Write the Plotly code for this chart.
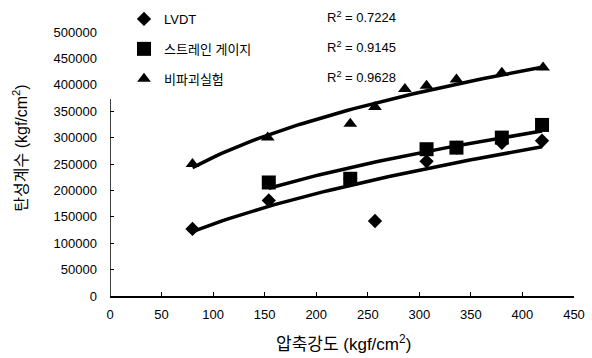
import numpy as np
import plotly.graph_objects as go

# Data (two LVDT points sit hidden behind squares)
lvdt_x = [80, 154, 233, 257, 307, 336, 380, 419]
lvdt_y = [127000, 181000, 222000, 142000, 255000, 281000, 290000, 294000]

sg_x = [154, 233, 307, 336, 380, 419]
sg_y = [215000, 222000, 278000, 281000, 300000, 324000]

nd_x = [80, 153, 233, 257, 286, 307, 336, 380, 420]
nd_y = [250000, 300000, 326000, 358000, 392000, 398000, 410000, 423000, 433000]

names = ["LVDT", "스트레인 게이지", "비파괴실험"]
r2_labels = ["R<sup>2</sup> = 0.7224", "R<sup>2</sup> = 0.9145", "R<sup>2</sup> = 0.9628"]
symbols = ["diamond", "square", "triangle-up"]

x_ticks = [0, 50, 100, 150, 200, 250, 300, 350, 400, 450]
y_ticks = [0, 50000, 100000, 150000, 200000, 250000, 300000, 350000, 400000, 450000, 500000]

x_title = "압축강도 (kgf/cm<sup>2</sup>)"
y_title = "탄성계수 (kgf/cm<sup>2</sup>)"

FONT = "Arial, Liberation Sans, Noto Sans CJK KR, sans-serif"

fig = go.Figure()

series = [(lvdt_x, lvdt_y), (sg_x, sg_y), (nd_x, nd_y)]

# power trendlines (least squares in log space, like a spreadsheet power trendline)
for i, (xs, ys) in enumerate(series):
    lx, ly = np.log(xs), np.log(ys)
    b, lna = np.polyfit(lx, ly, 1)
    xx = np.linspace(min(xs), max(xs), 60)
    yy = np.exp(lna) * xx ** b
    fig.add_trace(go.Scatter(x=xx, y=yy, mode="lines", legendgroup=f"g{i}",
                             line=dict(color="black", width=3.5),
                             showlegend=False, hoverinfo="skip"))

sizes = [11, 14, 12]
for i, ((xs, ys), nm, sym) in enumerate(zip(series, names, symbols)):
    fig.add_trace(go.Scatter(x=xs, y=ys, mode="markers", name=nm,
                             legendgroup=f"g{i}",
                             marker=dict(symbol=sym, size=sizes[i], color="black")))

# invisible trace to host the overlay axis carrying the short set of ticks
fig.add_trace(go.Scatter(x=[0], y=[0], yaxis="y2", mode="markers", legendgroup="g2",
                         marker=dict(opacity=0), showlegend=False, hoverinfo="skip"))

W, H = 592, 358
ML, MR, MT, MB = 110, 18, 0, 62
pw, ph = W - ML - MR, H - MT - MB
# plot area reaches the top of the page; 500000 sits 32px below it
YMAX = 500000 * ph / (ph - 32)

for i, lab in enumerate(r2_labels):
    fig.add_annotation(x=(325 - ML) / pw, y=1 - (17 + 30 * i - MT) / ph,
                       xref="paper", yref="paper",
                       text=lab, showarrow=False, xanchor="left", yanchor="middle",
                       font=dict(size=13, color="black", family=FONT))

# x axis title
fig.add_annotation(x=(343 - ML) / pw, y=1 - (343 - MT) / ph, xref="paper", yref="paper",
                   text=x_title, showarrow=False, xanchor="center", yanchor="middle",
                   font=dict(size=17, color="black", family=FONT))

fig.update_layout(
    width=W, height=H,
    margin=dict(l=ML, r=MR, t=MT, b=MB),
    paper_bgcolor="white", plot_bgcolor="white",
    font=dict(family=FONT, size=13, color="black"),
    showlegend=True,
    legend=dict(x=(124 - ML) / pw, y=1 - 4 / ph, xanchor="left", yanchor="top",
                bgcolor="rgba(0,0,0,0)", tracegroupgap=10, traceorder="grouped",
                itemwidth=30, font=dict(size=13, family=FONT)),
    xaxis=dict(range=[0, 450], tickvals=x_ticks, ticks="inside", ticklen=4,
               tickcolor="black", showline=True, linecolor="black", linewidth=1.5,
               showgrid=False, zeroline=False, ticklabelstandoff=6),
    yaxis=dict(range=[0, YMAX], tickvals=y_ticks, ticks="", showline=False,
               showgrid=False, zeroline=False, tickformat="d", ticklabelstandoff=12,
               title=dict(text=y_title, font=dict(size=16), standoff=22)),
    yaxis2=dict(range=[0, YMAX], overlaying="y", side="left",
                tickvals=y_ticks[:8], ticks="inside", ticklen=4, tickcolor="black",
                showticklabels=False, showgrid=False, zeroline=False, showline=False),
)

# y axis line stops below the legend, as in the reference
fig.add_shape(type="line", xref="x", yref="y", x0=0, x1=0, y0=0, y1=373000,
              line=dict(color="black", width=1.5))

fig.write_html("out.html")
